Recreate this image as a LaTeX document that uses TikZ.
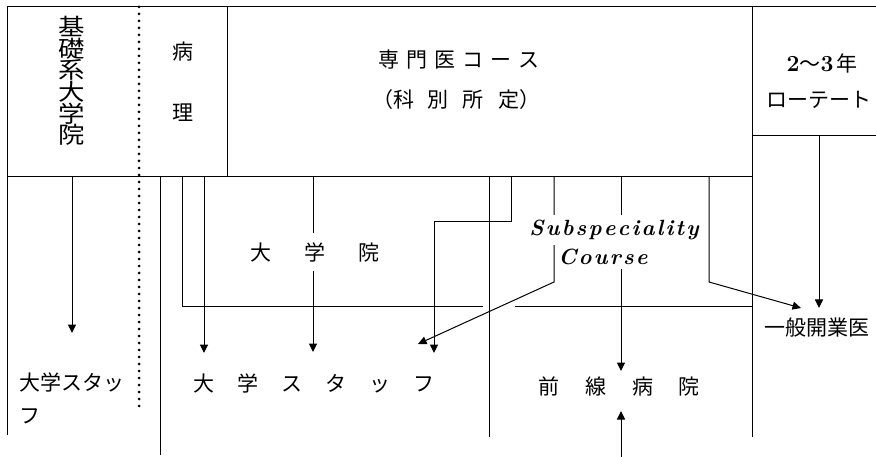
\documentclass[tikz,border=0pt]{standalone}
\usepackage{fontspec}
\newfontfamily\jp{Noto Sans CJK JP}
\usetikzlibrary{arrows.meta}
\makeatletter
\newcommand\myspaced[2]{\def\my@k{#1}\my@spB#2\relax}
\def\my@spB#1{#1\my@spC}
\def\my@spC#1{\ifx#1\relax\else\kern\my@k\relax#1\expandafter\my@spC\fi}
\makeatother
\newcommand\lmb[1]{{\rmfamily\bfseries\fontsize{23pt}{25pt}\selectfont #1}}
\newcommand\tightlines{\lineskiplimit=-30pt\relax}
\begin{document}
\begin{tikzpicture}[x=1pt,y=-1pt, line width=1pt,
  arr/.style={-{Triangle[length=8.5pt,width=8pt]}},
  dotline/.style={line width=3pt, line cap=round, dash pattern=on 0pt off 7pt},
  jpt/.style={font=\jp\fontsize{21pt}{25pt}\selectfont, inner sep=0pt},
  cover/.style={fill=white, inner xsep=3pt, inner ysep=5pt},
  lat/.style={font=\fontsize{22pt}{26pt}\selectfont\bfseries\itshape}]
\useasboundingbox (0,0) rectangle (876,457);
% frame
\coordinate (tl) at (7,7);
\coordinate (tr) at (876,7);
\coordinate (bl) at (7,435);
\coordinate (rowL) at (7,177);
\coordinate (rowR) at (752,177);
\coordinate (c1t) at (227,7);
\coordinate (c1b) at (227,177);
\coordinate (c2t) at (752,7);
\coordinate (c2b) at (752,437);
\coordinate (rbL) at (752,136);
\coordinate (rbR) at (876,136);
\coordinate (dott) at (139,7);
\coordinate (dotb) at (139,412);
\draw (tr) -- (tl) -- (bl);
\draw (rowL) -- (rowR);
\draw (c1t) -- (c1b);
\draw (c2t) -- (c2b);
\draw (rbL) -- (rbR);
\draw[dotline] (dott) -- (dotb);
% lower lines
\coordinate (a0s) at (72,177);  \coordinate (a0e) at (72,333);
\coordinate (v1s) at (160,177); \coordinate (v1e) at (160,455);
\coordinate (g1s) at (182,177); \coordinate (g1c) at (182,307); \coordinate (g1e) at (483,307);
\coordinate (a1s) at (204,177); \coordinate (a1e) at (204,353);
\coordinate (a2s) at (313,177); \coordinate (a2e) at (313,352);
\coordinate (a3s) at (511,177); \coordinate (a3c) at (511,222); \coordinate (a3d) at (434,222); \coordinate (a3e) at (434,353);
\coordinate (v2s) at (489,177); \coordinate (v2e) at (489,437);
\coordinate (a4s) at (554,177); \coordinate (a4c) at (554,282); \coordinate (a4e) at (418,344);
\coordinate (a5s) at (621,177); \coordinate (a5e) at (621,371);
\coordinate (a6s) at (709,177); \coordinate (a6c) at (709,282); \coordinate (a6e) at (801,308);
\coordinate (a7s) at (819,136); \coordinate (a7e) at (819,308);
\coordinate (h2s) at (515,307); \coordinate (h2e) at (752,307);
\coordinate (a8s) at (621,457); \coordinate (a8e) at (621,411);
\draw[arr] (a0s) -- (a0e);
\draw (v1s) -- (v1e);
\draw (g1s) -- (g1c) -- (g1e);
\draw[arr] (a1s) -- (a1e);
\draw[arr] (a2s) -- (a2e);
\draw[arr] (a3s) -- (a3c) -- (a3d) -- (a3e);
\draw (v2s) -- (v2e);
\draw[arr] (a4s) -- (a4c) -- (a4e);
\draw[arr] (a5s) -- (a5e);
\draw[arr] (a6s) -- (a6c) -- (a6e);
\draw[arr] (a7s) -- (a7e);
\draw (h2s) -- (h2e);
\draw[arr] (a8s) -- (a8e);
% texts
\node[jpt, font={\jp\fontsize{23pt}{21.6pt}\selectfont}] (kiso) at (72,81)
  {\scalebox{1.15}[1]{\begin{minipage}{1em}\centering\tightlines 基\\礎\\系\\大\\学\\院\end{minipage}}};
\node[jpt] (byo) at (183,52) {病};
\node[jpt] (ri) at (183,113) {理};
\node[jpt] (senmon) at (459,60) {\myspaced{7pt}{専門医コース}};
\node[jpt] (kabetsu) at (456,100) {（科\kern14pt 別\kern14pt 所\kern14pt 定）};
\node[jpt] (nen) at (822,63) {\lmb{2}〜\lmb{3}\kern3pt 年};
\node[jpt] (rote) at (819,100) {ローテート};
\node[jpt, cover, inner ysep=9pt] (daigakuin) at (315,252) {\myspaced{33pt}{大学院}};
\node[lat, cover] (subsp) at (614,230) {\myspaced{2.2pt}{Subspeciality}};
\node[lat, cover, inner ysep=4pt] (course) at (603,257) {\myspaced{2.2pt}{Course}};
\node[jpt, align=left, anchor=west, font=\jp\fontsize{21pt}{33pt}\selectfont] (staffL) at (19,398) {大学スタッ\\フ};
\node[jpt] (staffC) at (314,383) {\myspaced{23pt}{大学スタッフ}};
\node[jpt] (zensen) at (619,386) {\myspaced{26pt}{前線病院}};
\node[jpt] (kaigyo) at (817,328) {一般開業医};
\end{tikzpicture}
\end{document}
